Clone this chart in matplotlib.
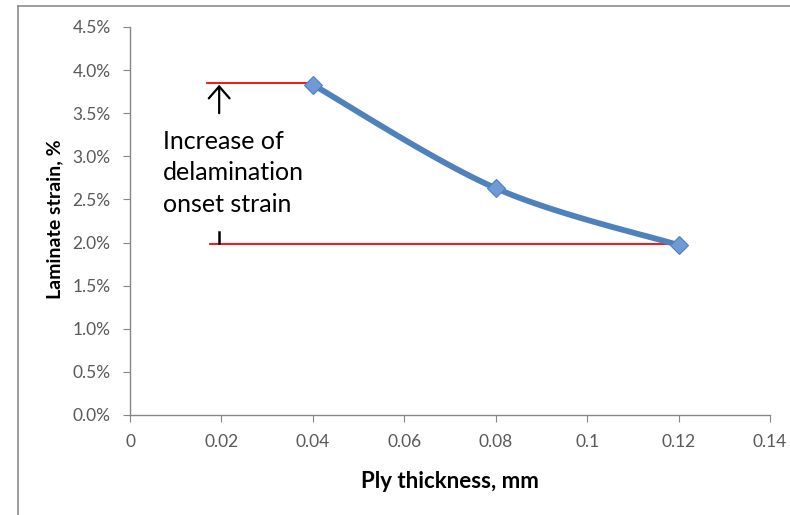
import numpy as np
import matplotlib
matplotlib.use("Agg")
import matplotlib.pyplot as plt
from matplotlib.lines import Line2D
from matplotlib.ticker import FuncFormatter

plt.rcParams['font.family'] = ['Lato', 'DejaVu Sans']

# data
thickness = [0.04, 0.08, 0.12]          # mm
strain = [3.83, 2.63, 1.97]             # %
upper_ref = 3.85                        # % red reference line (top)
lower_ref = 1.98                        # % red reference line (bottom)
annotation = "Increase of\ndelamination\nonset strain"
xticks = [0, 0.02, 0.04, 0.06, 0.08, 0.1, 0.12, 0.14]
xticklabels = ["0", "0.02", "0.04", "0.06", "0.08", "0.1", "0.12", "0.14"]
yticks = [0.0, 0.5, 1.0, 1.5, 2.0, 2.5, 3.0, 3.5, 4.0, 4.5]


def catmull_rom(xs, ys, n=60):
    xs = np.asarray(xs, float)
    ys = np.asarray(ys, float)
    px = np.concatenate([[xs[0]], xs, [xs[-1]]])
    py = np.concatenate([[ys[0]], ys, [ys[-1]]])
    outx, outy = [], []
    for i in range(1, len(px) - 2):
        t = np.linspace(0, 1, n)
        p0, p1, p2, p3 = (np.array([px[j], py[j]]) for j in (i - 1, i, i + 1, i + 2))
        c1 = p1 + (p2 - p0) / 6.0
        c2 = p2 - (p3 - p1) / 6.0
        b = ((1 - t) ** 3)[:, None] * p1 + (3 * (1 - t) ** 2 * t)[:, None] * c1 \
            + (3 * (1 - t) * t ** 2)[:, None] * c2 + (t ** 3)[:, None] * p2
        outx.append(b[:, 0])
        outy.append(b[:, 1])
    return np.concatenate(outx), np.concatenate(outy)


fig = plt.figure(figsize=(7.9, 5.15), dpi=100)
ax = fig.add_axes([0.1646, 0.1942, 0.9747 - 0.1646, 0.9476 - 0.1942])

# frame lines of the figure (left and top)
fig.add_artist(Line2D([18 / 790, 18 / 790], [0, 1 - 6 / 515], color='#8c8c8c', lw=1.2,
                      transform=fig.transFigure))
fig.add_artist(Line2D([18 / 790, 1], [1 - 6 / 515, 1 - 6 / 515], color='#8c8c8c', lw=1.2,
                      transform=fig.transFigure))

blue = '#4F81BD'
sx, sy = catmull_rom(thickness, strain)
ax.plot(sx, sy, color=blue, lw=4.2, solid_capstyle='round', zorder=3)
ax.plot(thickness, strain, linestyle='none', marker='D', markersize=9,
        markerfacecolor='#6f9ad6', markeredgecolor='#4F81BD', markeredgewidth=0.8, zorder=4)

# red reference lines
ax.plot([0.0168, thickness[0]], [upper_ref, upper_ref], color='red', lw=1.3, zorder=2)
ax.plot([0.0175, thickness[-1]], [lower_ref, lower_ref], color='red', lw=1.3, zorder=2)

# arrow and tick
ax.annotate("", xy=(0.0195, 3.83), xytext=(0.0195, 3.50),
            arrowprops=dict(arrowstyle='->,head_length=0.39,head_width=0.34', color='black',
                            lw=1.6, mutation_scale=22, shrinkA=0, shrinkB=0))
ax.plot([0.0195, 0.0195], [2.00, 2.12], color='black', lw=1.8)

ax.text(0.0072, 2.81, annotation, fontsize=18, ha='left', va='center', linespacing=1.45,
        color='black')

ax.set_xlim(0, 0.14)
ax.set_ylim(0, 4.5)
ax.set_xticks(xticks)
ax.set_xticklabels(xticklabels)
ax.set_yticks(yticks)
ax.yaxis.set_major_formatter(FuncFormatter(lambda v, p: f"{v:.1f}%"))

for s in ('top', 'right'):
    ax.spines[s].set_visible(False)
for s in ('left', 'bottom'):
    ax.spines[s].set_color('#868686')
    ax.spines[s].set_linewidth(1.0)

ax.tick_params(axis='y', direction='out', length=5, color='#868686', labelsize=12.5,
               labelcolor='#595959', pad=9)
ax.tick_params(axis='x', direction='out', length=5, color='#868686', labelsize=12.5,
               labelcolor='#595959', pad=9)

ax.set_xlabel("Ply thickness, mm", fontsize=16, fontweight='bold', labelpad=15)
ax.set_ylabel("Laminate strain, %", fontsize=14, fontweight='bold')
ax.yaxis.set_label_coords((55 - 130) / 640, 0.505)
ax.yaxis.label.set_va('center')

fig.savefig("out.png", dpi=100)
